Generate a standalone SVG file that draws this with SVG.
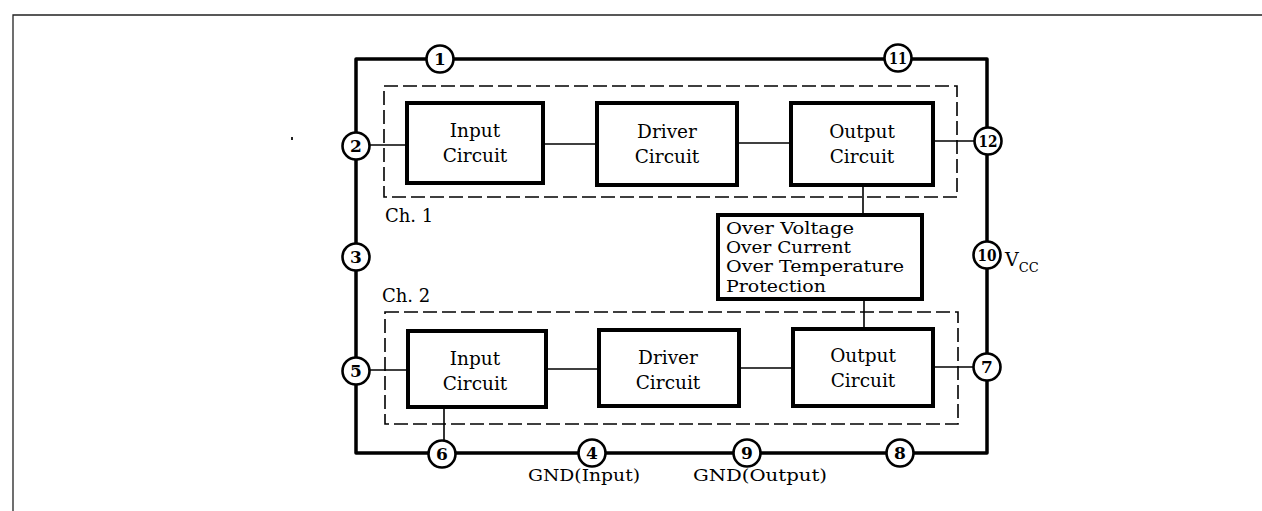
<svg xmlns="http://www.w3.org/2000/svg" width="1262" height="511" viewBox="0 0 1262 511">
<style>
.frame{fill:none;stroke:#222;stroke-width:1.3}
.outer{fill:none;stroke:#000;stroke-width:3.5;stroke-linejoin:round}
.wire{fill:none;stroke:#000;stroke-width:1.6}
.dash{fill:none;stroke:#000;stroke-width:1.6;stroke-dasharray:14 5}
.box{fill:#fff;stroke:#000;stroke-width:4}
.pin{fill:#fff;stroke:#000;stroke-width:2.6}
text{font-family:"DejaVu Serif","Liberation Serif",serif;fill:#000}
.lbl{font-size:18.5px;text-anchor:middle}
.prot{font-size:16.5px}
.num{font-size:17px;text-anchor:middle;font-weight:bold}
.note{font-size:18px}
.gnd{font-size:16px}
</style>
<rect width="1262" height="511" fill="#fff"/>
<path class="frame" d="M13,511 V15 H1262"/>
<rect x="291" y="137" width="2" height="3" fill="#222"/>
<g id="connectors">
<path class="outer" d="M356,59 H987 V453 H356 Z"/>
<path class="dash" d="M384,86 H957 V197 H384 Z"/>
<path class="dash" d="M385,312 H958 V424 H385 Z"/>
<line class="wire" x1="356" y1="145" x2="407" y2="145"/>
<line class="wire" x1="543" y1="144" x2="597" y2="144"/>
<line class="wire" x1="737" y1="143" x2="791" y2="143"/>
<line class="wire" x1="933" y1="141" x2="988" y2="141"/>
<line class="wire" x1="863" y1="185" x2="863" y2="215"/>
<line class="wire" x1="864" y1="299" x2="864" y2="330"/>
<line class="wire" x1="356" y1="370" x2="408" y2="370"/>
<line class="wire" x1="546" y1="369" x2="599" y2="369"/>
<line class="wire" x1="739" y1="368" x2="793" y2="368"/>
<line class="wire" x1="933" y1="367" x2="987" y2="367"/>
<line class="wire" x1="444" y1="407" x2="444" y2="453"/>
</g>
<g id="ch1-label"><text class="note" x="385" y="222">Ch. 1</text></g>
<g id="ch2-label"><text class="note" x="382" y="302">Ch. 2</text></g>
<g id="input1">
<rect class="box" x="407" y="103" width="136" height="80"/>
<text class="lbl" x="475" y="137">Input</text>
<text class="lbl" x="475" y="162">Circuit</text>
</g>
<g id="driver1">
<rect class="box" x="597" y="103" width="140" height="82"/>
<text class="lbl" x="667" y="138">Driver</text>
<text class="lbl" x="667" y="163">Circuit</text>
</g>
<g id="output1">
<rect class="box" x="791" y="103" width="142" height="82"/>
<text class="lbl" x="862" y="138">Output</text>
<text class="lbl" x="862" y="163">Circuit</text>
</g>
<g id="protection">
<rect class="box" x="718" y="215" width="204" height="84"/>
<text class="prot" x="726" y="234" textLength="128" lengthAdjust="spacingAndGlyphs">Over Voltage</text>
<text class="prot" x="726" y="253" textLength="125" lengthAdjust="spacingAndGlyphs">Over Current</text>
<text class="prot" x="726" y="272" textLength="178" lengthAdjust="spacingAndGlyphs">Over Temperature</text>
<text class="prot" x="726" y="292" textLength="100" lengthAdjust="spacingAndGlyphs">Protection</text>
</g>
<g id="input2">
<rect class="box" x="408" y="331" width="138" height="76"/>
<text class="lbl" x="475" y="365">Input</text>
<text class="lbl" x="475" y="390">Circuit</text>
</g>
<g id="driver2">
<rect class="box" x="599" y="330" width="140" height="76"/>
<text class="lbl" x="668" y="364">Driver</text>
<text class="lbl" x="668" y="389">Circuit</text>
</g>
<g id="output2">
<rect class="box" x="793" y="329" width="140" height="77"/>
<text class="lbl" x="863" y="362">Output</text>
<text class="lbl" x="863" y="387">Circuit</text>
</g>
<g id="pin1"><circle class="pin" cx="440" cy="59" r="13.5"/><text class="num" x="440" y="65">1</text></g>
<g id="pin11"><circle class="pin" cx="898" cy="58" r="13.5"/><text class="num" x="898" y="64" textLength="18" lengthAdjust="spacingAndGlyphs">11</text></g>
<g id="pin2"><circle class="pin" cx="356" cy="146" r="13.5"/><text class="num" x="356" y="152">2</text></g>
<g id="pin12"><circle class="pin" cx="988" cy="141" r="13.5"/><text class="num" x="988" y="147" textLength="19" lengthAdjust="spacingAndGlyphs">12</text></g>
<g id="pin3"><circle class="pin" cx="356" cy="257" r="13.5"/><text class="num" x="356" y="263">3</text></g>
<g id="pin10"><circle class="pin" cx="987" cy="255" r="13.5"/><text class="num" x="987" y="261" textLength="19" lengthAdjust="spacingAndGlyphs">10</text>
<text x="1005" y="266" font-size="19">V<tspan font-size="13" dy="6">CC</tspan></text></g>
<g id="pin5"><circle class="pin" cx="356" cy="371" r="13.5"/><text class="num" x="356" y="377">5</text></g>
<g id="pin7"><circle class="pin" cx="987" cy="367" r="13.5"/><text class="num" x="987" y="373">7</text></g>
<g id="pin6"><circle class="pin" cx="442" cy="454" r="13.5"/><text class="num" x="442" y="460">6</text></g>
<g id="pin4"><circle class="pin" cx="592" cy="453" r="13.5"/><text class="num" x="592" y="459">4</text>
<text class="gnd" x="528" y="481" textLength="112" lengthAdjust="spacingAndGlyphs">GND(Input)</text></g>
<g id="pin9"><circle class="pin" cx="747" cy="453" r="13.5"/><text class="num" x="747" y="459">9</text>
<text class="gnd" x="693" y="481" textLength="134" lengthAdjust="spacingAndGlyphs">GND(Output)</text></g>
<g id="pin8"><circle class="pin" cx="900" cy="453" r="13.5"/><text class="num" x="900" y="459">8</text></g>
</svg>
